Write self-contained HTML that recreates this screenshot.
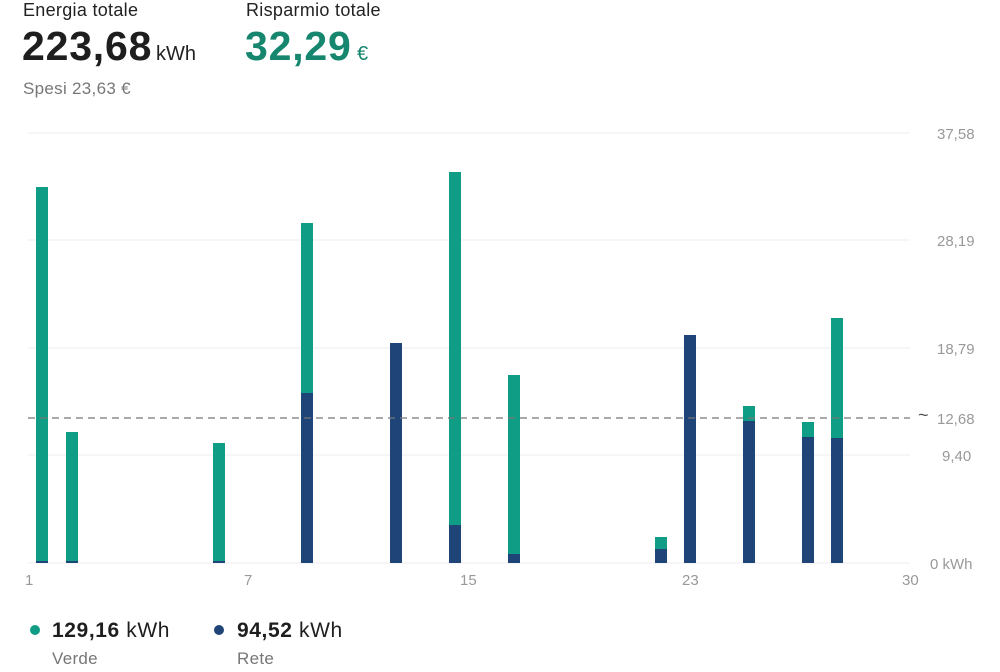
<!DOCTYPE html><html><head><style>
body{margin:0;width:1000px;height:667px;background:#fff;overflow:hidden;font-family:"Liberation Sans",sans-serif}
</style></head><body>
<svg width="1000" height="667" xmlns="http://www.w3.org/2000/svg" font-family="Liberation Sans, sans-serif">
<text x="23" y="16" font-size="18" fill="#222" letter-spacing="0.3">Energia totale</text>
<text x="246" y="16" font-size="18" fill="#222" letter-spacing="0.3">Risparmio totale</text>
<text x="22" y="60" font-size="41" font-weight="bold" fill="#1e1e1e" letter-spacing="0.8">223,68</text>
<text x="156" y="60" font-size="20" fill="#222">kWh</text>
<text x="245" y="60" font-size="41" font-weight="bold" fill="#16866f" letter-spacing="0.8">32,29</text>
<text x="357" y="60" font-size="20" fill="#16866f">€</text>
<text x="23" y="94" font-size="17" fill="#777" letter-spacing="0.3">Spesi 23,63 €</text>
<g stroke="#eee" stroke-width="1">
<line x1="28" y1="133" x2="910" y2="133"/><line x1="28" y1="240" x2="910" y2="240"/>
<line x1="28" y1="348" x2="910" y2="348"/><line x1="28" y1="455" x2="910" y2="455"/>
<line x1="28" y1="563" x2="910" y2="563"/></g>
<g font-size="15" fill="#999">
<text x="937" y="139">37,58</text><text x="937" y="246">28,19</text><text x="937" y="354">18,79</text>
<text x="937" y="424">12,68</text><text x="918" y="421" font-size="18" fill="#555">~</text><text x="942" y="461">9,40</text>
<text x="930" y="569">0 kWh</text>
<text x="25" y="585">1</text><text x="244" y="585">7</text><text x="460" y="585">15</text><text x="682" y="585">23</text><text x="902" y="585">30</text>
</g>
<g fill="#0f9d86">
<rect x="36" y="187" width="12" height="376"/><rect x="66" y="432" width="12" height="131"/>
<rect x="213" y="443" width="12" height="120"/><rect x="301" y="223" width="12" height="170"/>
<rect x="449" y="172" width="12" height="353"/><rect x="508" y="375" width="12" height="179"/>
<rect x="655" y="537" width="12" height="12"/><rect x="743" y="406" width="12" height="15"/>
<rect x="802" y="422" width="12" height="15"/><rect x="831" y="318" width="12" height="120"/>
</g>
<g fill="#1f4478">
<rect x="36" y="561" width="12" height="2"/><rect x="66" y="561" width="12" height="2"/><rect x="213" y="561" width="12" height="2"/>
<rect x="301" y="393" width="12" height="170"/><rect x="390" y="343" width="12" height="220"/>
<rect x="449" y="525" width="12" height="38"/><rect x="508" y="554" width="12" height="9"/>
<rect x="655" y="549" width="12" height="14"/><rect x="684" y="335" width="12" height="228"/>
<rect x="743" y="421" width="12" height="142"/><rect x="802" y="437" width="12" height="126"/>
<rect x="831" y="438" width="12" height="125"/>
</g>
<line x1="28" y1="418" x2="910" y2="418" stroke="#777" stroke-width="1.3" stroke-dasharray="7,5"/>
<circle cx="35" cy="630" r="5" fill="#0f9d86"/>
<text x="52" y="637" font-size="21" fill="#1e1e1e" letter-spacing="0.6"><tspan font-weight="bold">129,16</tspan> kWh</text>
<text x="52" y="664" font-size="17" fill="#777" letter-spacing="0.3">Verde</text>
<circle cx="219" cy="630" r="5" fill="#1f4478"/>
<text x="237" y="637" font-size="21" fill="#1e1e1e" letter-spacing="0.6"><tspan font-weight="bold">94,52</tspan> kWh</text>
<text x="237" y="664" font-size="17" fill="#777" letter-spacing="0.3">Rete</text>
</svg>
</body></html>
